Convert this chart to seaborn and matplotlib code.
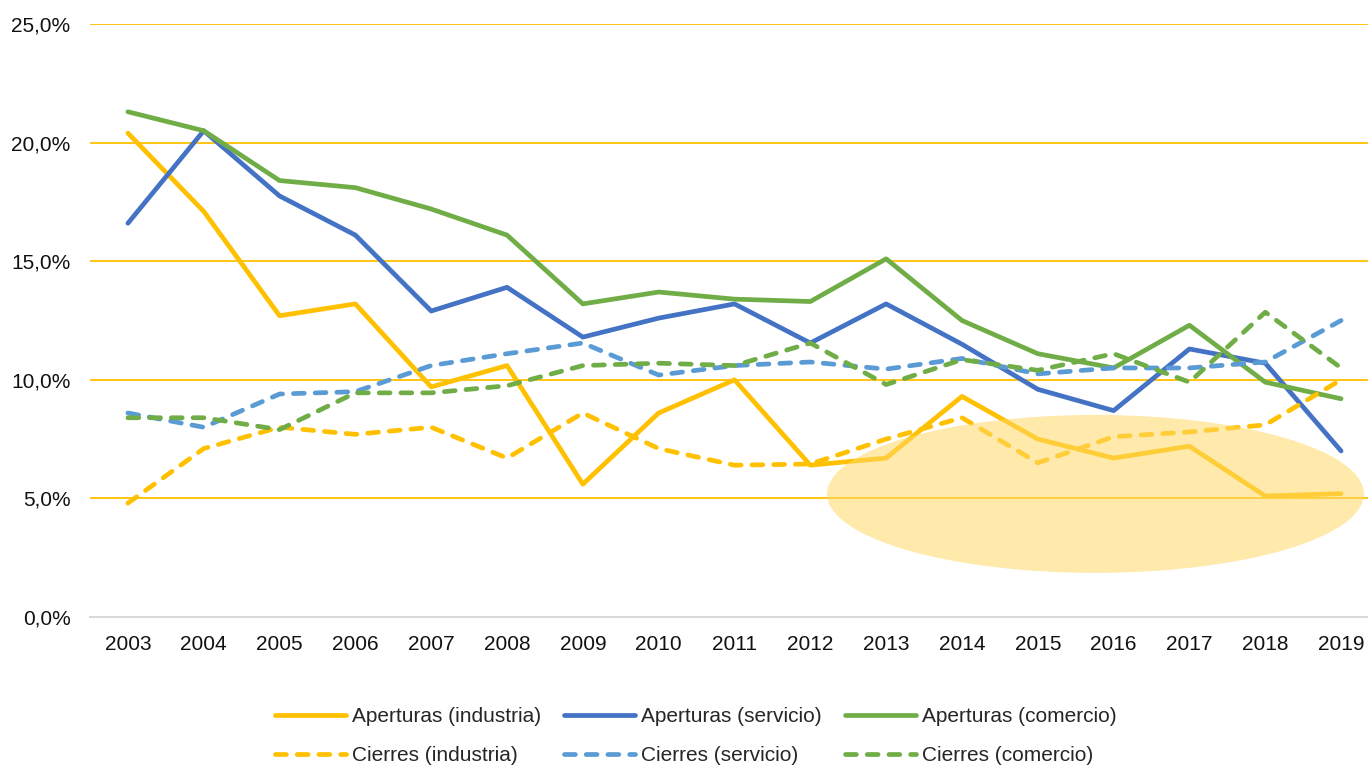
import pandas as pd
import seaborn as sns
import matplotlib.pyplot as plt
from matplotlib.patches import Ellipse
from matplotlib.lines import Line2D
from matplotlib.ticker import FuncFormatter

years = list(range(2003, 2020))

aperturas_industria = [20.4, 17.1, 12.7, 13.2, 9.7, 10.6, 5.6, 8.6, 10.0, 6.4, 6.7, 9.3, 7.5, 6.7, 7.2, 5.1, 5.2]
aperturas_servicio = [16.6, 20.5, 17.75, 16.1, 12.9, 13.9, 11.8, 12.6, 13.2, 11.55, 13.2, 11.5, 9.6, 8.7, 11.3, 10.7, 7.0]
aperturas_comercio = [21.3, 20.5, 18.4, 18.1, 17.2, 16.1, 13.2, 13.7, 13.4, 13.3, 15.1, 12.5, 11.1, 10.5, 12.3, 9.9, 9.2]
cierres_industria = [4.8, 7.1, 8.0, 7.7, 8.0, 6.7, 8.6, 7.1, 6.4, 6.45, 7.5, 8.4, 6.5, 7.6, 7.8, 8.1, 10.0]
cierres_servicio = [8.6, 8.0, 9.4, 9.5, 10.6, 11.1, 11.55, 10.2, 10.6, 10.75, 10.45, 10.9, 10.25, 10.5, 10.5, 10.75, 12.5]
cierres_comercio = [8.4, 8.4, 7.9, 9.45, 9.45, 9.75, 10.6, 10.7, 10.6, 11.55, 9.8, 10.85, 10.4, 11.1, 9.9, 12.85, 10.5]

series_names = ["Aperturas (industria)", "Aperturas (servicio)", "Aperturas (comercio)",
                "Cierres (industria)", "Cierres (servicio)", "Cierres (comercio)"]
series_values = [aperturas_industria, aperturas_servicio, aperturas_comercio,
                 cierres_industria, cierres_servicio, cierres_comercio]
y_ticks = [0, 5, 10, 15, 20, 25]

colors = {
    "Aperturas (industria)": "#FFC000",
    "Aperturas (servicio)": "#4472C4",
    "Aperturas (comercio)": "#70AD47",
    "Cierres (industria)": "#FFC000",
    "Cierres (servicio)": "#5B9BD5",
    "Cierres (comercio)": "#70AD47",
}
DASH = (2.3, 2.3)
LW = 3.4
dashes = {name: ("" if name.startswith("Aperturas") else DASH) for name in series_names}

rows = []
for name, vals in zip(series_names, series_values):
    for y, v in zip(years, vals):
        rows.append({"year": y, "value": v, "serie": name})
df = pd.DataFrame(rows)

sns.set_style("white")
plt.rcParams["font.family"] = ["Liberation Sans", "DejaVu Sans"]

fig = plt.figure(figsize=(13.68, 7.65), dpi=100)
ax = fig.add_axes([90 / 1368, 148 / 765, 1289 / 1368, 593 / 765])

sns.lineplot(data=df, x="year", y="value", hue="serie", style="serie",
             palette=colors, dashes=dashes, linewidth=LW, ax=ax, legend=False)
for line in ax.get_lines():
    line.set_dash_capstyle("round")
    line.set_solid_capstyle("round")
    line.set_zorder(2)

# highlighted area, drawn over the lines
ax.add_patch(Ellipse((2015.76, 5.19), 7.08, 6.66, facecolor="#FFD966",
                     edgecolor="none", alpha=0.55, zorder=4))

ax.set_xlim(2002.5, 2019.5)
ax.set_ylim(0, 25)
ax.set_xticks(years)
ax.set_yticks(y_ticks)
ax.yaxis.set_major_formatter(FuncFormatter(lambda v, p: f"{v:.1f}%".replace(".", ",")))
ax.tick_params(axis="both", length=0, labelsize=15, colors="#111111")
ax.tick_params(axis="x", pad=13)
ax.tick_params(axis="y", pad=14)
ax.set_xlabel("")
ax.set_ylabel("")

ax.set_axisbelow(True)
ax.grid(axis="y", color="#FFC000", linewidth=1.3)
ax.grid(axis="x", visible=False)
for side in ["top", "right", "left"]:
    ax.spines[side].set_visible(False)
ax.spines["bottom"].set_color("#D9D9D9")
ax.spines["bottom"].set_linewidth(1.5)
ax.spines["bottom"].set_zorder(5)

# legend: column-wise fill so rows read Aperturas / Cierres
order = ["Aperturas (industria)", "Cierres (industria)",
         "Aperturas (servicio)", "Cierres (servicio)",
         "Aperturas (comercio)", "Cierres (comercio)"]
handles = []
for name in order:
    ls = "-" if name.startswith("Aperturas") else (0, DASH)
    handles.append(Line2D([0], [0], color=colors[name], linewidth=LW, linestyle=ls,
                          dash_capstyle="round", solid_capstyle="round"))
fig.legend(handles, order, loc="center", bbox_to_anchor=(696 / 1368, 1 - 736 / 765),
           ncol=3, frameon=False, fontsize=15, handlelength=3.4, handletextpad=0.3,
           columnspacing=1.1, labelspacing=0.95)

fig.savefig("out.png", dpi=100)
